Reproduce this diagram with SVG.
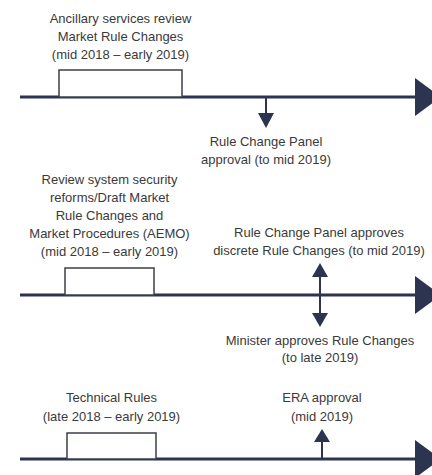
<svg xmlns="http://www.w3.org/2000/svg" width="432" height="475" viewBox="0 0 432 475">
  <defs>
    <style>
      .lbl { font-family: "Liberation Sans", Arial, sans-serif; font-size: 13px; fill: #3a3a3a; text-anchor: middle; }
      .axis { stroke: #2c3450; stroke-width: 3; fill: none; }
      .head { fill: #2c3450; }
      .bar { fill: #ffffff; stroke: #3b3f4a; stroke-width: 1.5; }
      .stem { stroke: #2c3450; stroke-width: 2; fill: none; }
    </style>
  </defs>
  <rect width="432" height="475" fill="#ffffff"/>

  <!-- timeline axes -->
  <g id="connectors">
    <line class="axis" x1="20" y1="97" x2="416" y2="97"/>
    <polygon class="head" points="415,78 441,97 415,116"/>
    <line class="axis" x1="20" y1="295" x2="416" y2="295"/>
    <polygon class="head" points="415,276 441,295 415,314"/>
    <line class="axis" x1="20" y1="459" x2="416" y2="459"/>
    <polygon class="head" points="415,440 441,459 415,478"/>

    <!-- milestone arrows -->
    <line class="stem" x1="266" y1="97" x2="266" y2="114"/>
    <polygon class="head" points="258,113 274,113 266,128"/>

    <line class="stem" x1="320" y1="276" x2="320" y2="314"/>
    <polygon class="head" points="312,277 328,277 320,263"/>
    <polygon class="head" points="312,313 328,313 320,327"/>

    <line class="stem" x1="322" y1="442" x2="322" y2="459"/>
    <polygon class="head" points="314,442 330,442 322,429"/>
  </g>

  <!-- row 1 -->
  <g id="ancillary-review">
    <rect class="bar" x="59" y="70" width="123" height="27"/>
    <text class="lbl" x="120.5" y="23">Ancillary services review</text>
    <text class="lbl" x="120.5" y="41">Market Rule Changes</text>
    <text class="lbl" x="120.5" y="59">(mid 2018 – early 2019)</text>
  </g>
  <g id="rcp-approval">
    <text class="lbl" x="266" y="146">Rule Change Panel</text>
    <text class="lbl" x="266" y="164">approval (to mid 2019)</text>
  </g>

  <!-- row 2 -->
  <g id="security-reforms">
    <rect class="bar" x="65" y="268" width="89" height="27"/>
    <text class="lbl" x="109.5" y="183.5">Review system security</text>
    <text class="lbl" x="109.5" y="201.5">reforms/Draft Market</text>
    <text class="lbl" x="109.5" y="219.5">Rule Changes and</text>
    <text class="lbl" x="109.5" y="237.5">Market Procedures (AEMO)</text>
    <text class="lbl" x="109.5" y="255.5">(mid 2018 – early 2019)</text>
  </g>
  <g id="rcp-discrete">
    <text class="lbl" x="319" y="237">Rule Change Panel approves</text>
    <text class="lbl" x="319" y="254.5">discrete Rule Changes (to mid 2019)</text>
  </g>
  <g id="minister-approval">
    <text class="lbl" x="320" y="345">Minister approves Rule Changes</text>
    <text class="lbl" x="320" y="362">(to late 2019)</text>
  </g>

  <!-- row 3 -->
  <g id="technical-rules">
    <rect class="bar" x="67" y="433" width="89" height="26"/>
    <text class="lbl" x="111.5" y="401.5">Technical Rules</text>
    <text class="lbl" x="111.5" y="421">(late 2018 – early 2019)</text>
  </g>
  <g id="era-approval">
    <text class="lbl" x="322" y="401.5">ERA approval</text>
    <text class="lbl" x="322" y="421">(mid 2019)</text>
  </g>
</svg>
